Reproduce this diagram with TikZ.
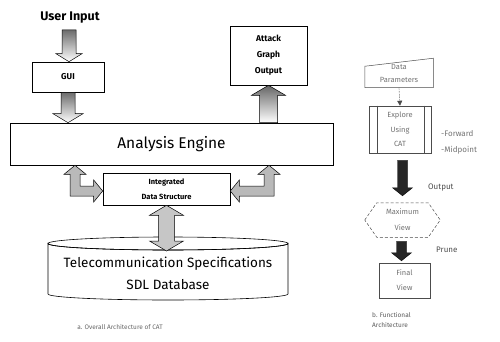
\documentclass[tikz,border=0pt]{standalone}
\usepackage{fontspec}
\setmainfont{Fira Sans}
\usetikzlibrary{calc,arrows.meta}

% vertical block arrow: #1 options, #2 start, #3 tip, #4 half shaft, #5 half head, #6 signed head length
\newcommand\vblock[6]{%
  \path[#1] let \p1=(#2), \p2=(#3) in
    (\x2-#4,\y1) -- (\x2+#4,\y1) -- (\x2+#4,\y2+#6) -- (\x2+#5,\y2+#6) --
    (\x2,\y2) -- (\x2-#5,\y2+#6) -- (\x2-#4,\y2+#6) -- cycle;}

\begin{document}
\begin{tikzpicture}[x=1pt,y=-1pt,
  box/.style={draw=black, line width=0.6pt, fill=white, inner sep=0pt, align=center},
  fbox/.style={draw=gray!60!black, line width=0.5pt, fill=white, inner sep=0pt, align=center,
    text=black!55, font=\fontsize{7.5}{13}\selectfont},
  plain/.style={inner sep=0pt, align=center},
  ftext/.style={inner sep=0pt, anchor=west, text=black!55, font=\fontsize{8}{9}\selectfont},
  blockarrow/.style={draw=black, line width=0.5pt, fill=gray!55},
  darkarrow/.style={draw=black, line width=0.4pt, fill=gray!30!black},
  shadearrow/.style={shade, top color=gray!85!black, bottom color=white, draw=black, line width=0.5pt}
]
\useasboundingbox (0,0) rectangle (500,342);

% ---------------- overall architecture ----------------
\node[plain, font=\bfseries\fontsize{12.5}{14}\selectfont] (userin) at (70,18) {User Input};
\node[box, minimum width=72, minimum height=30, font=\bfseries\fontsize{8.5}{10}\selectfont] (gui) at (68,77) {GUI};
\node[box, minimum width=77, minimum height=59, font=\bfseries\fontsize{8.5}{16}\selectfont] (attack) at (268.5,55.5) {Attack\\Graph\\Output};
\node[box, minimum width=323, minimum height=42, font=\fontsize{15.5}{18}\selectfont] (engine) at (171.5,144) {Analysis Engine};
\node[box, minimum width=127, minimum height=32, font=\bfseries\fontsize{7.5}{15}\selectfont] (ids) at (166.5,189) {Integrated\\Data Structure};

% database cylinder
\path[draw=black, line width=0.6pt, fill=white]
  (48,243.5) -- (48,294) arc[start angle=180, end angle=0, x radius=120, y radius=6]
  -- (288,243.5) arc[start angle=0, end angle=180, x radius=120, y radius=6.5] -- cycle;
\draw[line width=0.6pt] (168,243.5) ellipse[x radius=120, y radius=6.5];
\node[plain, font=\fontsize{13.5}{22}\selectfont] (db) at (168,273) {Telecommunication Specifications\\SDL Database};
\coordinate (dbtip) at (165,251);

% block arrows
\vblock{shadearrow}{$(userin.south)+(0,6)$}{$(userin.south |- gui.north)+(-1,0)$}{7pt}{13pt}{8pt}
\vblock{shadearrow}{gui.south}{gui.south |- engine.north}{7pt}{15pt}{9pt}
\vblock{shade, top color=gray!80!black, bottom color=white, draw=black, line width=0.5pt}
  {attack.south |- engine.north}{attack.south}{9pt}{17pt}{-10pt}

% double arrow between data structure and database
\path[blockarrow, fill=gray!45] let \p1=(ids.south), \p2=(dbtip) in
  (\x1,\y1) -- (\x1+17pt,\y1-10pt) -- (\x1+8pt,\y1-10pt) -- (\x1+8pt,\y2+10pt) --
  (\x1+17pt,\y2+10pt) -- (\x1,\y2) -- (\x1-17pt,\y2+10pt) -- (\x1-8pt,\y2+10pt) --
  (\x1-8pt,\y1-10pt) -- (\x1-17pt,\y1-10pt) -- cycle;

% bent arrows between engine and data structure
\coordinate (lcorner) at (75,191);
\coordinate (rcorner) at (269,191);
\path[blockarrow] let \p1=(lcorner |- engine.south), \p2=(lcorner -| ids.west) in
  (\x1,\y1) -- (\x1+11pt,\y1-9pt) -- (\x1+5pt,\y1-9pt) -- (\x1+5pt,\y2+5pt) --
  (\x2-9pt,\y2+5pt) -- (\x2-9pt,\y2+11pt) -- (\x2,\y2) -- (\x2-9pt,\y2-11pt) --
  (\x2-9pt,\y2-5pt) -- (\x1-5pt,\y2-5pt) -- (\x1-5pt,\y1-9pt) -- (\x1-11pt,\y1-9pt) -- cycle;
\path[blockarrow] let \p1=(rcorner |- engine.south), \p2=(rcorner -| ids.east) in
  (\x1,\y1) -- (\x1-11pt,\y1-9pt) -- (\x1-5pt,\y1-9pt) -- (\x1-5pt,\y2+5pt) --
  (\x2+9pt,\y2+5pt) -- (\x2+9pt,\y2+11pt) -- (\x2,\y2) -- (\x2+9pt,\y2-11pt) --
  (\x2+9pt,\y2-5pt) -- (\x1+5pt,\y2-5pt) -- (\x1+5pt,\y1-9pt) -- (\x1+11pt,\y1-9pt) -- cycle;

\node[plain, text=black!60, font=\fontsize{6.5}{8}\selectfont] (capa) at (120,327) {a. Overall Architecture of CAT};

% ---------------- functional architecture ----------------
\node[fbox, draw=none, fill=none, minimum width=68, minimum height=29, text depth=0pt] (dparam) at (399,73) {Data\\Parameters};
\path[draw=gray!60!black, line width=0.5pt] (dparam.south west) -- (dparam.south east)
  -- (dparam.north east) -- ($(dparam.north west)+(0,8)$) -- cycle;
\node[fbox, minimum width=62, minimum height=47, font=\fontsize{7.5}{14.5}\selectfont] (explore) at (400,129.5) {Explore\\Using\\CAT};
\draw[gray!60!black, line width=0.5pt] ($(explore.north west)+(8,0)$) -- ($(explore.south west)+(8,0)$)
  ($(explore.north east)+(-7,0)$) -- ($(explore.south east)+(-7,0)$);
\node[fbox, draw=none, fill=none, minimum width=75, minimum height=34, font=\fontsize{7.5}{16}\selectfont] (maxview) at (402.5,220) {Maximum\\View};
\path[draw=gray!60!black, line width=0.5pt, densely dashed] (maxview.west)
  -- ($(maxview.north west)+(12,0)$) -- ($(maxview.north east)+(-12,0)$) -- (maxview.east)
  -- ($(maxview.south east)+(-12,0)$) -- ($(maxview.south west)+(12,0)$) -- cycle;
\node[fbox, minimum width=51, minimum height=35, font=\fontsize{7.5}{15}\selectfont] (final) at (404.5,280.5) {Final\\View};

\node[ftext] (fwd) at (441,134) {-Forward};
\node[ftext] (mid) at (441,150) {-Midpoint};
\node[ftext, text=black!70] (outp) at (428,188) {Output};
\node[ftext, text=black!70] (prune) at (436,250) {Prune};

\draw[gray!60!black, densely dotted, line width=0.6pt, -{Triangle[width=5pt,length=5pt]}] (dparam.south) -- (explore.north);
\vblock{darkarrow}{$(explore.south)+(2,7)$}{$(maxview.north)+(0,-7)$}{5pt}{10pt}{8pt}
\vblock{darkarrow}{$(maxview.south)+(0,4)$}{$(final.north)+(-3,-2)$}{5pt}{10pt}{8pt}

\node[plain, anchor=north west, align=left, text=black!65, font=\fontsize{6.5}{10.5}\selectfont] (capb) at (372,312) {b. Functional\\Architecture};
\end{tikzpicture}
\end{document}
